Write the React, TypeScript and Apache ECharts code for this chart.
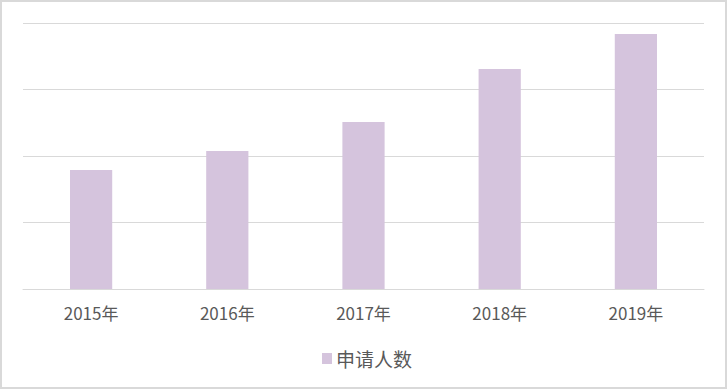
import React, { useEffect, useRef } from "react";
import * as echarts from "echarts";

const categories = ["2015年", "2016年", "2017年", "2018年", "2019年"];
const seriesName = "申请人数";
const values = [89.5, 103.8, 125.6, 165.4, 191.7];
const yMin = 0;
const yMax = 200;
const yInterval = 50;

export default function App() {
  const ref = useRef<HTMLDivElement>(null);
  useEffect(() => {
    if (!ref.current) return;
    const chart = echarts.init(ref.current, null, { renderer: "svg" });
    chart.setOption({
      animation: false,
      backgroundColor: "#ffffff",
      textStyle: { fontFamily: "'Noto Sans CJK SC', 'Noto Sans', sans-serif" },
      grid: { left: 23, right: 23, top: 23, bottom: 100, containLabel: false },
      legend: {
        data: [seriesName],
        left: 322,
        top: 349,
        padding: 0,
        itemWidth: 10,
        itemHeight: 11,
        itemGap: 6,
        icon: "rect",
        textStyle: { fontSize: 19, color: "#595959", padding: [0, 0, 0, -1] },
      },
      xAxis: {
        type: "category",
        data: categories,
        axisLine: { show: true, lineStyle: { color: "#d9d9d9", width: 1 } },
        axisTick: { show: false },
        axisLabel: { fontSize: 17, color: "#595959", margin: 15 },
      },
      yAxis: {
        type: "value",
        min: yMin,
        max: yMax,
        interval: yInterval,
        axisLabel: { show: false },
        axisLine: { show: false },
        axisTick: { show: false },
        splitLine: { lineStyle: { color: "#d9d9d9", width: 1 } },
      },
      series: [
        {
          name: seriesName,
          type: "bar",
          data: values,
          barWidth: "31%",
          itemStyle: { color: "#d5c4dd" },
        },
      ],
    });
    return () => chart.dispose();
  }, []);
  return (
    <div style={{ position: "absolute", left: 0, top: 0, width: 727, height: 389 }}>
      <div ref={ref} style={{ width: 727, height: 389 }} />
      <div
        style={{
          position: "absolute",
          left: 0,
          top: 0,
          width: 727,
          height: 389,
          boxSizing: "border-box",
          border: "2px solid #d9d9d9",
          pointerEvents: "none",
        }}
      />
    </div>
  );
}
